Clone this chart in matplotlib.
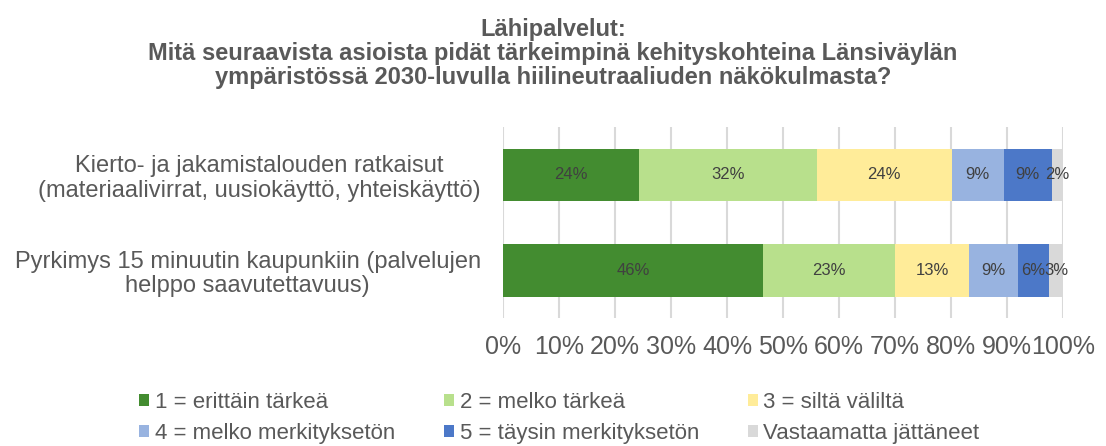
import matplotlib.pyplot as plt
import numpy as np

plt.rcParams['font.family'] = ['Liberation Sans', 'DejaVu Sans']

# data
categories = ['Kierto- ja jakamistalouden ratkaisut\n(materiaalivirrat, uusiokäyttö, yhteiskäyttö)',
              'Pyrkimys 15 minuutin kaupunkiin (palvelujen\nhelppo saavutettavuus)']
series = ['1 = erittäin tärkeä', '2 = melko tärkeä', '3 = siltä väliltä',
          '4 = melko merkityksetön', '5 = täysin merkityksetön', 'Vastaamatta jättäneet']
values = np.array([
    [24.3, 46.4],   # 1
    [31.7, 23.6],   # 2
    [24.1, 13.2],   # 3
    [9.3, 8.7],     # 4
    [8.6, 5.6],     # 5
    [2.0, 2.5],     # vastaamatta
])
labels = [['24%', '46%'], ['32%', '23%'], ['24%', '13%'],
          ['9%', '9%'], ['9%', '6%'], ['2%', '3%']]
colors = ['#438C30', '#B8E08C', '#FFEC99', '#98B3E0', '#4C78C8', '#D9D9D9']

fig = plt.figure(figsize=(11.06, 4.46), dpi=100)
ax = fig.add_axes([0.4548, 0.287, 0.9611 - 0.4548, 0.7152 - 0.287])

y = np.arange(len(categories))
left = np.zeros(len(categories))
handles = []
for i in range(len(series)):
    b = ax.barh(y, values[i], left=left, height=0.55, color=colors[i], label=series[i], zorder=2)
    handles.append(b)
    for j in range(len(categories)):
        ax.text(left[j] + values[i][j] / 2, y[j], labels[i][j], ha='center', va='center',
                fontsize=12, color='#404040', zorder=3)
    left += values[i]

ax.set_xlim(0, 100)
ax.set_ylim(1.5, -0.5)
ax.set_xticks(np.arange(0, 101, 10))
ax.set_xticklabels([f'{t}%' for t in range(0, 101, 10)], fontsize=18, color='#595959')
ax.set_yticks(y)
ax.set_yticklabels(categories, fontsize=17, color='#595959', linespacing=1.15)
for t in ax.get_yticklabels():
    t.set_multialignment('center')
ax.tick_params(axis='both', length=0)
ax.tick_params(axis='y', pad=16)
ax.tick_params(axis='x', pad=12)
ax.grid(axis='x', color='#D9D9D9', linewidth=1.5, zorder=0)
for s in ax.spines.values():
    s.set_visible(False)

fig.suptitle('Lähipalvelut:\nMitä seuraavista asioista pidät tärkeimpinä kehityskohteina Länsiväylän\n'
             'ympäristössä 2030-luvulla hiilineutraaliuden näkökulmasta?',
             x=0.5, y=0.96, fontsize=17, fontweight='bold', color='#595959', linespacing=1.07,
             va='top')

order = [0, 3, 1, 4, 2, 5]
leg = fig.legend([handles[k] for k in order], [series[k] for k in order], ncol=3,
                 loc='upper left', bbox_to_anchor=(0.116, 0.146), frameon=False,
                 fontsize=16, handlelength=0.45, handleheight=0.45, handletextpad=0.25,
                 columnspacing=2.2, labelspacing=0.45, borderpad=0)
for t in leg.get_texts():
    t.set_color('#595959')

fig.savefig('out.png', dpi=100)
